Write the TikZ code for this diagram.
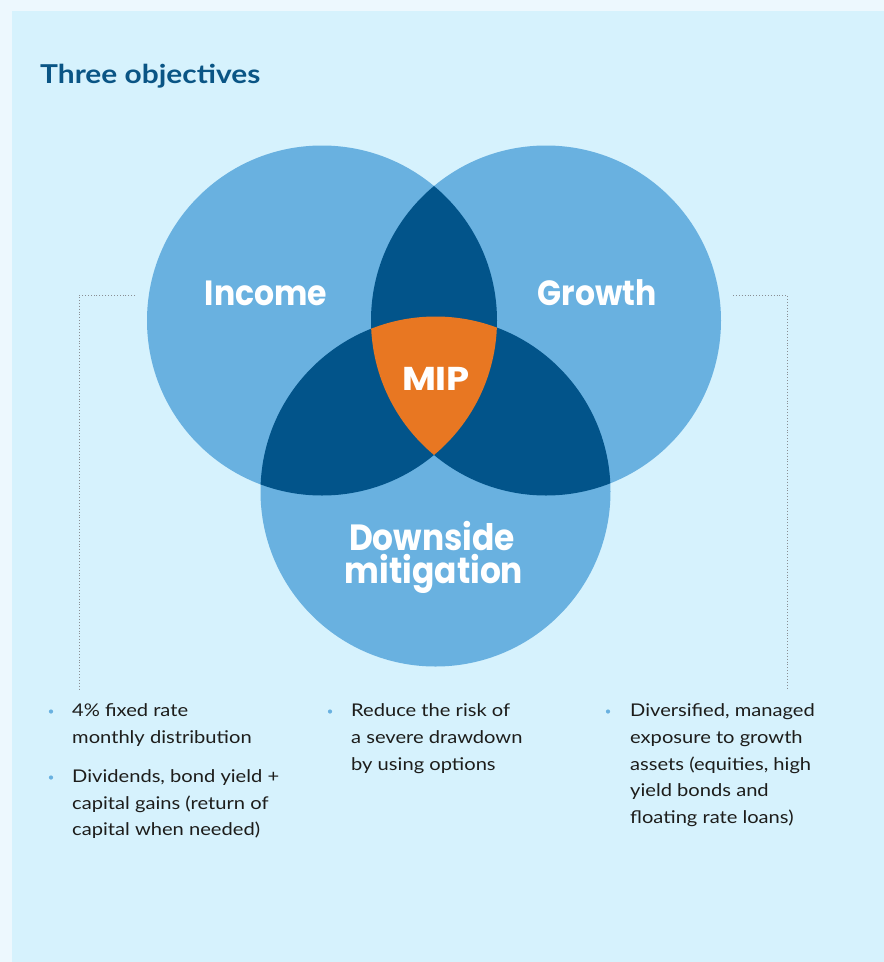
\documentclass[tikz,border=0pt]{standalone}
\usepackage{fontspec}
\setmainfont{Lato}[FakeStretch=1.15]
\newfontfamily\heavy{Poppins}[FakeStretch=0.9]
\newfontfamily\heavywide{Poppins}[FakeStretch=1.12]
\definecolor{outerbg}{HTML}{EDF8FE}
\definecolor{panel}{HTML}{D6F2FD}
\definecolor{lightc}{HTML}{69B1E0}
\definecolor{darkc}{HTML}{02548A}
\definecolor{orangec}{HTML}{E87722}
\definecolor{titlec}{HTML}{0A5585}
\definecolor{bodyc}{HTML}{1D1D1B}
\definecolor{dotc}{HTML}{8A8F94}
\tikzset{
  circlabel/.style={text=white, inner sep=0, font=\heavy\bfseries\fontsize{35}{38}\selectfont},
  bodytext/.style={text=bodyc, inner sep=0, anchor=base west, font=\fontsize{17.5}{27}\selectfont},
  bulletdot/.style={circle, fill=lightc, inner sep=0, minimum size=4.2pt},
  leader/.style={draw=dotc, line width=0.9pt, dotted},
}
\begin{document}
\begin{tikzpicture}[x=1pt,y=-1pt]
\useasboundingbox (0,0) rectangle (884,962);
\fill[outerbg] (0,0) rectangle (884,962);
\fill[panel] (12,11) rectangle (884,962);

% title
\node[anchor=base west, inner sep=0, text=titlec, font=\bfseries\fontsize{26}{30}\selectfont] (title) at (40,83) {Three objectives};

% circles
\def\R{175}
\coordinate (cL) at (322,320.5);
\coordinate (cR) at (546,320.5);
\coordinate (cB) at (435.5,491.5);
\fill[lightc] (cL) circle (\R);
\fill[lightc] (cR) circle (\R);
\fill[lightc] (cB) circle (\R);
\begin{scope}
  \clip (cL) circle (\R);
  \fill[darkc] (cR) circle (\R);
  \fill[darkc] (cB) circle (\R);
\end{scope}
\begin{scope}
  \clip (cR) circle (\R);
  \fill[darkc] (cB) circle (\R);
\end{scope}
\begin{scope}
  \clip (cL) circle (\R);
  \clip (cR) circle (\R);
  \fill[orangec] (cB) circle (\R);
\end{scope}

% circle labels
\node[circlabel, anchor=base] (income) at (266,305) {Income};
\node[circlabel, anchor=base] (growth) at (597,305) {Growth};
\node[circlabel, anchor=base, font=\heavy\bfseries\fontsize{36.5}{38}\selectfont] (down1) at (432,550) {Downside};
\node[circlabel, anchor=base, font=\heavy\bfseries\fontsize{36.5}{38}\selectfont] (down2) at (434,583) {mitigation};
\node[circlabel, anchor=base, font=\heavywide\bfseries\fontsize{33}{35}\selectfont] (mip) at (436,390) {MIP};

% dotted leaders
\coordinate (lA) at (135,295);
\coordinate (lB) at (79,295);
\coordinate (lC) at (79,690);
\coordinate (rA) at (733,295);
\coordinate (rB) at (787,295);
\coordinate (rC) at (787,690);
\draw[leader] (lA) -- (lB) -- (lC);
\draw[leader] (rA) -- (rB) -- (rC);

% left column
\node[bulletdot] (b1) at (51,711.5) {};
\node[bodytext] (t11) at (72,716.7) {4\% fixed rate};
\node[bodytext] (t12) at (72,743) {monthly distribution};
\node[bulletdot] (b2) at (51,777.5) {};
\node[bodytext] (t21) at (72,782.7) {Dividends, bond yield +};
\node[bodytext] (t22) at (72,809) {capital gains (return of};
\node[bodytext] (t23) at (72,835.5) {capital when needed)};

% middle column
\node[bulletdot] (b3) at (330,711.5) {};
\node[bodytext] (t31) at (351,716.7) {Reduce the risk of};
\node[bodytext] (t32) at (351,743) {a severe drawdown};
\node[bodytext] (t33) at (351,770) {by using options};

% right column
\node[bulletdot] (b4) at (608,711.5) {};
\node[bodytext] (t41) at (630,716.7) {Diversified, managed};
\node[bodytext] (t42) at (630,743) {exposure to growth};
\node[bodytext] (t43) at (630,770) {assets (equities, high};
\node[bodytext] (t44) at (630,796.5) {yield bonds and};
\node[bodytext] (t45) at (630,823) {floating rate loans)};
\end{tikzpicture}
\end{document}
